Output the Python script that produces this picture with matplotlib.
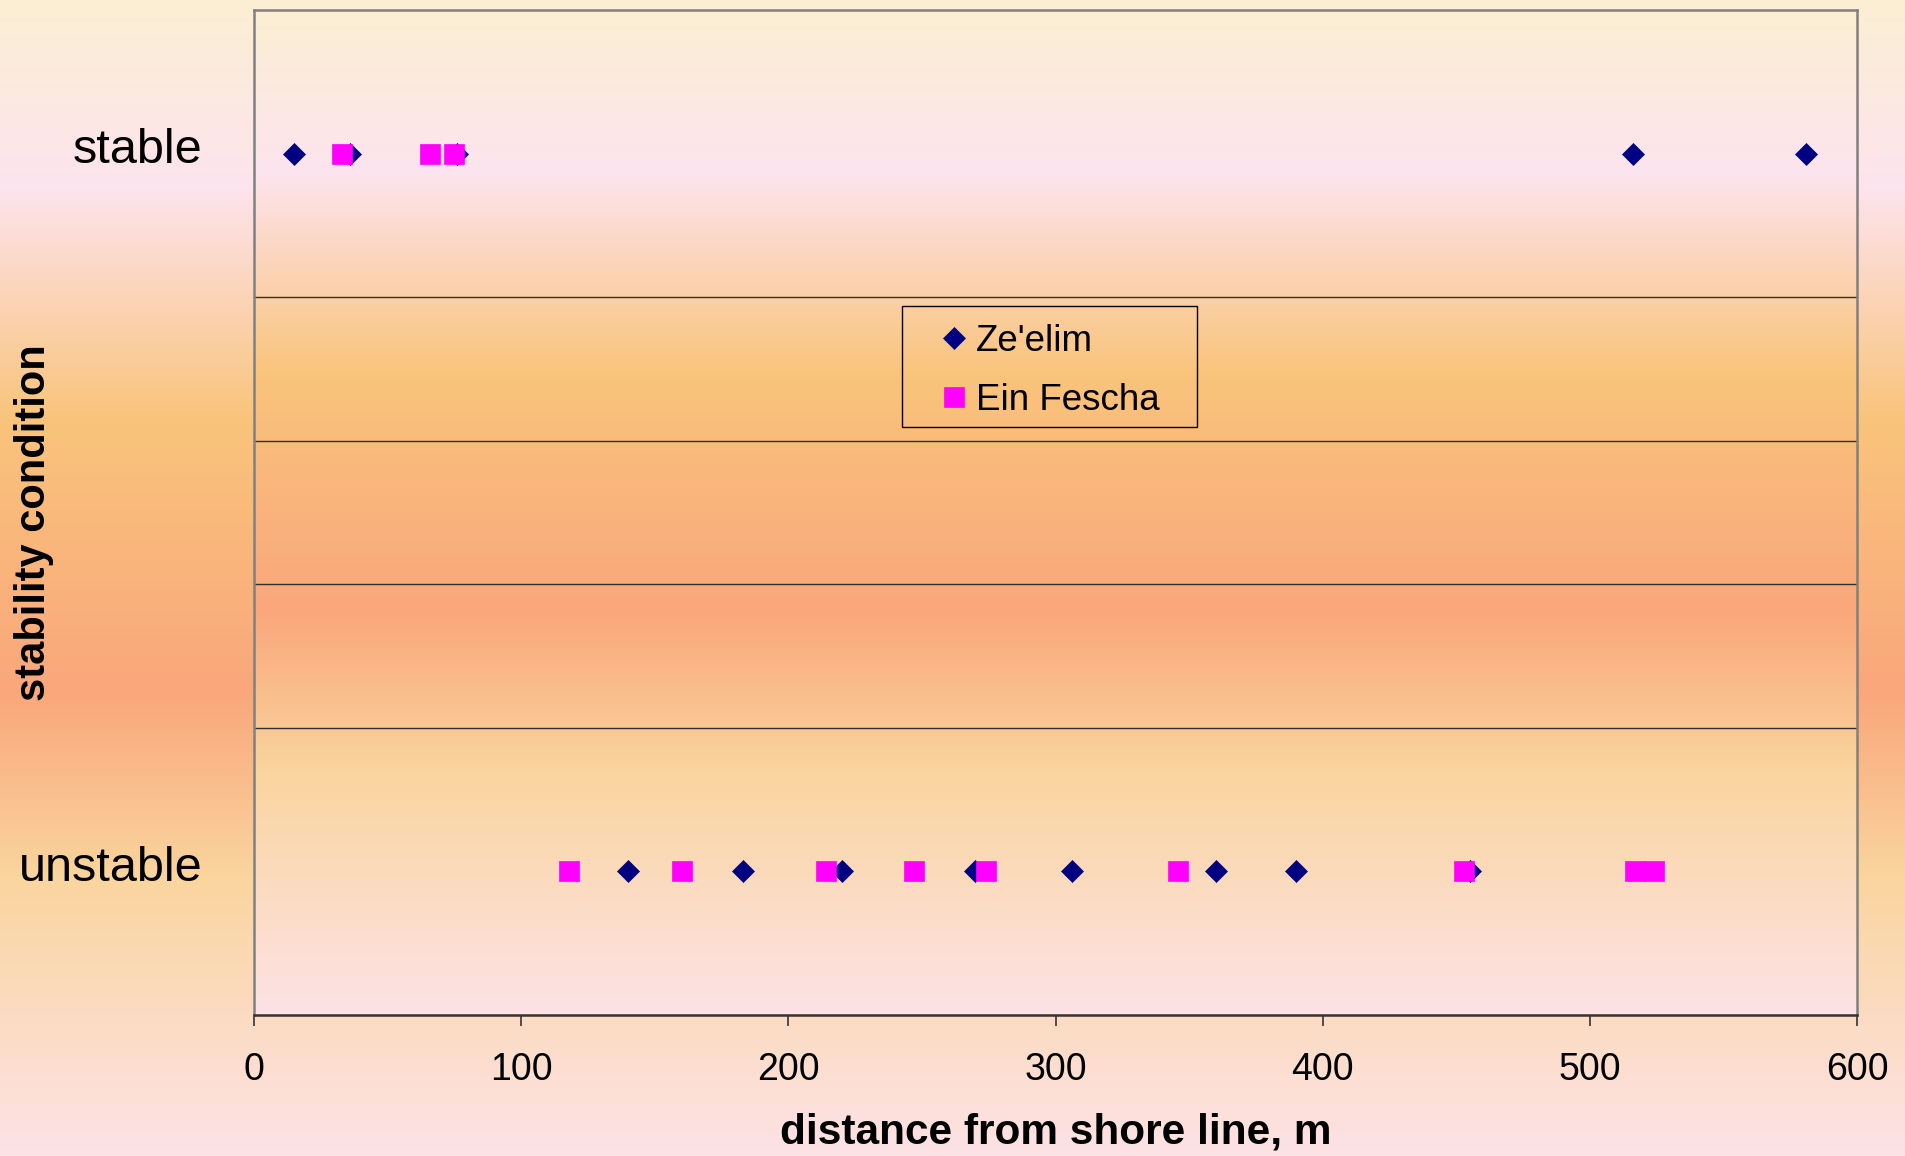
"""
Stability condition vs distance from shore line.
"""

import numpy as np
import matplotlib.pyplot as plt
import matplotlib.transforms as mtransforms
from matplotlib.colors import LinearSegmentedColormap
from matplotlib.patches import Rectangle

plt.rcParams['font.family'] = ['Liberation Sans', 'DejaVu Sans']

# Data
categories = ['unstable', 'stable']
cat_pos = [1, 6]

zeelim_stable = [15, 36, 76, 516, 581]
zeelim_unstable = [140, 183, 220, 270, 306, 360, 390, 455]
fescha_stable = [33, 66, 75]
fescha_unstable = [118, 160, 214, 247, 274, 346, 453, 517, 524]

x_ticks = [0, 100, 200, 300, 400, 500, 600]

# background gradient (top -> bottom)
grad = LinearSegmentedColormap.from_list('bg', [
    (0.00, '#FBEFD3'),
    (0.16, '#FDE4EE'),
    (0.36, '#F9C47C'),
    (0.60, '#F9A77B'),
    (0.76, '#FAD59E'),
    (1.00, '#FDE2E6'),
])
gvals = np.linspace(0, 1, 256).reshape(-1, 1)

fig = plt.figure(figsize=(19.06, 11.56), dpi=100)

bg = fig.add_axes([0, 0, 1, 1], zorder=-10)
bg.imshow(gvals, cmap=grad, aspect='auto', extent=[0, 1, 0, 1])
bg.axis('off')

ax = fig.add_axes([0.1333, 0.122, 0.841, 0.8693])
ax.imshow(gvals, cmap=grad, aspect='auto', extent=[0, 1, 0, 1],
          transform=ax.transAxes, zorder=0)

# series
ax.plot(zeelim_stable + zeelim_unstable,
        [cat_pos[1]] * len(zeelim_stable) + [cat_pos[0]] * len(zeelim_unstable),
        ls='none', marker='D', ms=11.5, color='#000080', mec='#000080',
        mew=0.5, label="Ze'elim", zorder=3)
ax.plot(fescha_stable + fescha_unstable,
        [cat_pos[1]] * len(fescha_stable) + [cat_pos[0]] * len(fescha_unstable),
        ls='none', marker='s', ms=14.5, color='#FF00FF', mec='#FF00FF',
        mew=0.5, label='Ein Fescha', zorder=4)

ax.set_xlim(0, 600)
ax.set_ylim(0, 7)
ax.set_xticks(x_ticks)
ax.set_yticks(cat_pos)
ax.set_yticklabels(categories)
ax.set_yticks(range(1, 7), minor=True)
ax.grid(True, which='minor', axis='y', color='#2e2e2e', lw=1.0, zorder=1)
ax.set_axisbelow(True)

ax.tick_params(axis='x', labelsize=27, length=8, width=1.2, pad=19,
               direction='out', color='#333333')
ax.tick_params(axis='y', which='both', labelsize=35, length=0, pad=37)

# nudge category labels up a little
shift = mtransforms.ScaledTranslation(0, 6 / 72, fig.dpi_scale_trans)
for lbl in ax.get_yticklabels():
    lbl.set_transform(lbl.get_transform() + shift)

for side in ['left', 'top', 'right']:
    ax.spines[side].set_color('#808080')
    ax.spines[side].set_linewidth(1.8)
ax.spines['bottom'].set_color('#333333')
ax.spines['bottom'].set_linewidth(1.8)

ax.set_xlabel('distance from shore line, m', fontsize=30.5,
              fontweight='bold', va='center')
ax.xaxis.set_label_coords(0.5, -0.117)
ax.set_ylabel('stability condition', fontsize=30, fontweight='bold',
              va='center')
ax.yaxis.set_label_coords(-0.137, 0.49)

# legend: entries without frame, box drawn separately
leg = ax.legend(loc='center left', bbox_to_anchor=(0.4273, 0.641),
                fontsize=26.5, frameon=False,
                handlelength=0.8, handletextpad=0.2, labelspacing=0.66,
                borderpad=0, borderaxespad=0, numpoints=1)
ax.add_patch(Rectangle((0.404, 0.585), 0.184, 0.1205, transform=ax.transAxes,
                       fill=False, edgecolor='black', lw=1.0, zorder=5))

fig.savefig('out.png', dpi=100)
